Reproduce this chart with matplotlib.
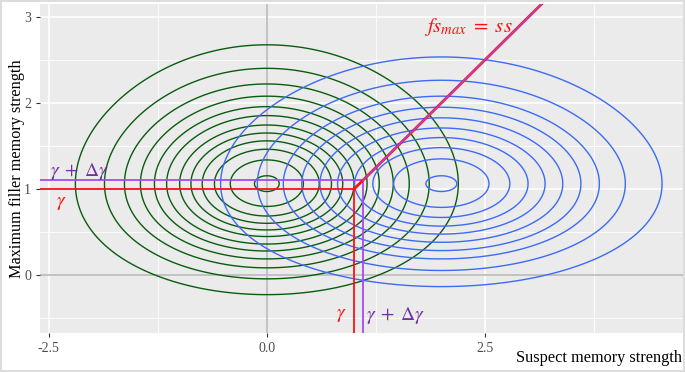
import numpy as np
import matplotlib
matplotlib.use("Agg")
import matplotlib.pyplot as plt
from math import erf

# distribution parameters (innocent / guilty suspect, max of fillers)
innocent_mean, innocent_sd = 0.0, 1.0
guilty_mean, guilty_sd = 2.0, 1.25
n_fillers = 5

# contour levels as a fraction of each density's peak
green_levels = [0.09, 0.177, 0.264, 0.35, 0.436, 0.517, 0.607, 0.685, 0.76, 0.835, 0.916, 0.99]
blue_levels = [0.129, 0.241, 0.35, 0.441, 0.538, 0.636, 0.729, 0.821, 0.909, 0.99]

gamma = 1.0
delta_gamma = 0.1

x_ticks = [-2.5, 0.0, 2.5]
x_ticklabels = ["-2.5", "0.0", "2.5"]
y_ticks = [0, 1, 2, 3]
y_ticklabels = ["0", "1", "2", "3"]

xlim = (-2.6, 4.77)
ylim = (-0.674, 3.15)

plt.rcParams["mathtext.fontset"] = "stix"
plt.rcParams["font.family"] = "Liberation Serif"


def norm_pdf(v, m, s):
    return np.exp(-0.5 * ((v - m) / s) ** 2) / (s * np.sqrt(2 * np.pi))


verf = np.vectorize(erf)


def max_pdf(v, n):
    cdf = 0.5 * (1 + verf(v / np.sqrt(2)))
    return n * norm_pdf(v, 0, 1) * cdf ** (n - 1)


xs = np.linspace(xlim[0], xlim[1], 700)
ys = np.linspace(ylim[0], ylim[1], 500)
X, Y = np.meshgrid(xs, ys)
fy = max_pdf(Y, n_fillers)
Z_inn = norm_pdf(X, innocent_mean, innocent_sd) * fy
Z_gui = norm_pdf(X, guilty_mean, guilty_sd) * fy

fig = plt.figure(figsize=(6.85, 3.72), dpi=100)
fig.patch.set_edgecolor("#dcdcdc")
fig.patch.set_linewidth(1.5)
ax = fig.add_axes([40 / 685, 1 - 333 / 372, 643 / 685, 329 / 372])
ax.set_facecolor("#EBEBEB")
for s in ax.spines.values():
    s.set_visible(False)

# grid
for v in [-1.25, 1.25, 3.75]:
    ax.axvline(v, color="white", lw=0.6, zorder=0)
for v in [-0.5, 0.5, 1.5, 2.5]:
    ax.axhline(v, color="white", lw=0.6, zorder=0)
for v in x_ticks:
    ax.axvline(v, color="white", lw=1.1, zorder=0)
for v in y_ticks:
    ax.axhline(v, color="white", lw=1.1, zorder=0)
ax.axvline(0, color="#BEBEBE", lw=1.3, zorder=1)
ax.axhline(0, color="#BEBEBE", lw=1.3, zorder=1)

ax.contour(X, Y, Z_inn, levels=np.array(green_levels) * Z_inn.max(),
           colors="#0A5C0E", linewidths=1.0, zorder=2)
ax.contour(X, Y, Z_gui, levels=np.array(blue_levels) * Z_gui.max(),
           colors="#3D6BF5", linewidths=1.0, zorder=3)

# criterion lines
red, purple = "#FF1010", "#A64AF0"
g2 = gamma + delta_gamma
ax.plot([xlim[0], gamma], [gamma, gamma], color=red, lw=1.3, zorder=4)
ax.plot([gamma, gamma], [ylim[0], gamma], color=red, lw=1.3, zorder=4)
ax.plot([xlim[0], g2], [g2, g2], color=purple, lw=1.3, zorder=4)
ax.plot([g2, g2], [ylim[0], g2], color=purple, lw=1.3, zorder=4)
ax.plot([gamma, 4], [gamma, 4], color=red, lw=2.0, zorder=5)
ax.plot([g2, 4], [g2, 4], color=purple, lw=0.9, zorder=6)

ax.text(-2.48, 1.2, r"$\gamma\;+\;\Delta\gamma$", color="#7030A0", fontsize=14,
        ha="left", va="center", zorder=7)
ax.text(-2.42, 0.83, r"$\gamma$", color=red, fontsize=14, ha="left", va="center", zorder=7)
ax.text(0.85, -0.47, r"$\gamma$", color=red, fontsize=14, ha="center", va="center", zorder=7)
ax.text(1.14, -0.47, r"$\gamma\;+\;\Delta\gamma$", color="#7030A0", fontsize=14,
        ha="left", va="center", zorder=7)
ax.text(1.8, 2.88, r"$fs_{max}\;=\;ss$", color=red, fontsize=15, ha="left",
        va="center", zorder=7)

ax.set_xlim(xlim)
ax.set_ylim(ylim)
ax.set_xticks(x_ticks)
ax.set_xticklabels(x_ticklabels)
ax.set_yticks(y_ticks)
ax.set_yticklabels(y_ticklabels)
ax.tick_params(colors="#333333", labelcolor="#4D4D4D", labelsize=10, length=3, width=0.8)

fig.text(682 / 685, 1 - 358 / 372, "Suspect memory strength", fontsize=11.7,
         ha="right", va="center")
fig.text(17 / 685, 1 - 169 / 372, "Maximum filler memory strength", fontsize=11.7,
         ha="center", va="center", rotation=90)

fig.savefig("out.png", dpi=100)
